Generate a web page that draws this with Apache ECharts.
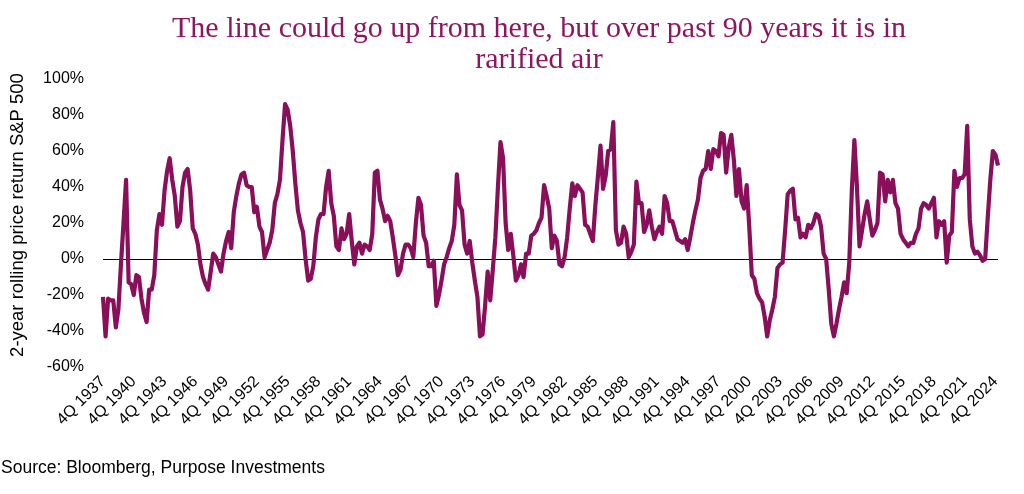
<!DOCTYPE html>
<html>
<head>
<meta charset="utf-8">
<script src="https://cdn.jsdelivr.net/npm/echarts@6/dist/echarts.min.js"></script>
<style>
html,body{margin:0;padding:0;background:#fff;}
#chart{width:1024px;height:494px;}
</style>
</head>
<body>
<div id="chart"></div>
<script>
// First quarter of the series and tick spacing (every 3 years = 12 quarters)
const startYear = 1937;
const startQuarter = 4;
const yTicks = [-60, -40, -20, 0, 20, 40, 60, 80, 100];

// 2-year rolling price return of the S&P 500 (%), quarterly from 4Q 1937 to 1Q 2025
const returns1937_1948 = [-21,-43,-22,-23,-23,-38,-28,-3,20,44,-13,-14,-20,-9,-10,-22,-30,-35,-17,-17,-9,16,25,19,38,49,56,44,35,18,21,40,48,50,38,17,14,8,-3,-10,-14,-17,-7,3,1,-3,-7,3];
const returns1949_1960 = [10,15,6,26,35,42,47,48,41,40,40,26,29,18,15,1,5,9,16,31,36,44,66,86,83,74,60,42,27,20,15,0,-12,-11,-4,12,22,25,25,40,49,31,24,7,5,17,11,14];
const returns1961_1972 = [25,10,-3,7,9,3,8,7,5,14,48,49,33,28,21,24,21,12,2,-9,-6,3,8,8,6,1,20,34,30,13,9,-4,-4,-1,-26,-20,-12,-3,1,6,10,19,47,30,27,8,3,10];
const returns1973_1984 = [-2,-12,-21,-43,-42,-26,-7,-23,-6,12,40,65,56,20,5,14,2,-12,-9,-3,-10,3,3,13,14,16,20,23,41,35,28,6,13,10,-3,-4,1,12,28,42,35,41,39,37,19,18,14,10];
const returns1985_1996 = [30,46,63,39,46,60,61,76,16,8,9,18,14,1,4,8,43,31,31,15,19,27,18,11,15,18,14,35,31,21,21,16,11,10,9,11,5,12,20,27,33,45,49,50,60,50,61,60];
const returns1997_2008 = [57,70,69,48,62,69,55,35,50,32,28,41,18,-9,-11,-19,-22,-24,-32,-43,-34,-28,-21,-5,-3,-2,16,36,38,39,22,23,12,14,12,19,17,20,25,24,18,3,0,-17,-36,-43,-36,-28];
const returns2009_2020 = [-21,-13,-19,-2,38,66,40,7,16,25,32,22,13,16,20,48,47,32,44,37,44,31,28,14,11,9,7,9,9,14,17,28,31,30,28,31,34,12,21,19,21,-2,13,15,49,40,45,45];
const returns2021_2025 = [47,74,22,7,3,4,2,-1,0,23,44,60,58,52];

const values = [].concat(returns1937_1948, returns1949_1960, returns1961_1972,
  returns1973_1984, returns1985_1996, returns1997_2008, returns2009_2020, returns2021_2025);

// Quarter category labels
const categories = [];
{
  let y = startYear, q = startQuarter;
  for (let i = 0; i < values.length; i++) {
    categories.push(q + 'Q ' + y);
    q++; if (q > 4) { q = 1; y++; }
  }
}

const lineColor = '#8a0f5a';
const chart = echarts.init(document.getElementById('chart'), null, {renderer: 'canvas'});
chart.setOption({
  animation: false,
  backgroundColor: '#ffffff',
  title: {
    text: 'The line could go up from here, but over past 90 years it is in\nrarified air',
    left: 534,
    top: 9,
    textAlign: 'center',
    textStyle: {
      fontFamily: '"Liberation Serif", "DejaVu Serif", serif',
      fontSize: 30,
      fontWeight: 'normal',
      color: '#8e1560',
      lineHeight: 31
    }
  },
  grid: {left: 101, right: 26, top: 79, bottom: 127, containLabel: false},
  xAxis: {
    type: 'category',
    data: categories,
    boundaryGap: false,
    axisLine: {show: false, onZero: false},
    axisTick: {show: false},
    axisLabel: {
      interval: 11,
      rotate: 45,
      margin: 12,
      fontFamily: '"Liberation Sans", Arial, sans-serif',
      fontSize: 16,
      color: '#000'
    },
    splitLine: {show: false}
  },
  yAxis: {
    type: 'value',
    min: yTicks[0],
    max: yTicks[yTicks.length - 1],
    interval: 20,
    name: '2-year rolling price return S&P 500',
    nameLocation: 'middle',
    nameGap: 76,
    nameTextStyle: {
      fontFamily: '"Liberation Sans", Arial, sans-serif',
      fontSize: 18.5,
      color: '#000',
      padding: [0, 0, 0, 16]
    },
    axisLine: {show: false},
    axisTick: {show: false},
    splitLine: {show: false},
    axisLabel: {
      formatter: v => v + '%',
      margin: 19,
      fontFamily: '"Liberation Sans", Arial, sans-serif',
      fontSize: 16,
      color: '#000'
    }
  },
  series: [{
    type: 'line',
    data: values,
    showSymbol: false,
    symbol: 'none',
    lineStyle: {color: lineColor, width: 4.2, join: 'round'},
    z: 3,
    markLine: {
      silent: true,
      symbol: 'none',
      label: {show: false},
      lineStyle: {color: '#000', width: 1.2, type: 'solid'},
      data: [{yAxis: 0}],
      z: 2
    }
  }],
  graphic: [{
    type: 'text',
    left: 1,
    top: 459,
    style: {
      text: 'Source: Bloomberg, Purpose Investments',
      font: '17.5px "Liberation Sans", Arial, sans-serif',
      fill: '#000'
    }
  }]
});
</script>
</body>
</html>
